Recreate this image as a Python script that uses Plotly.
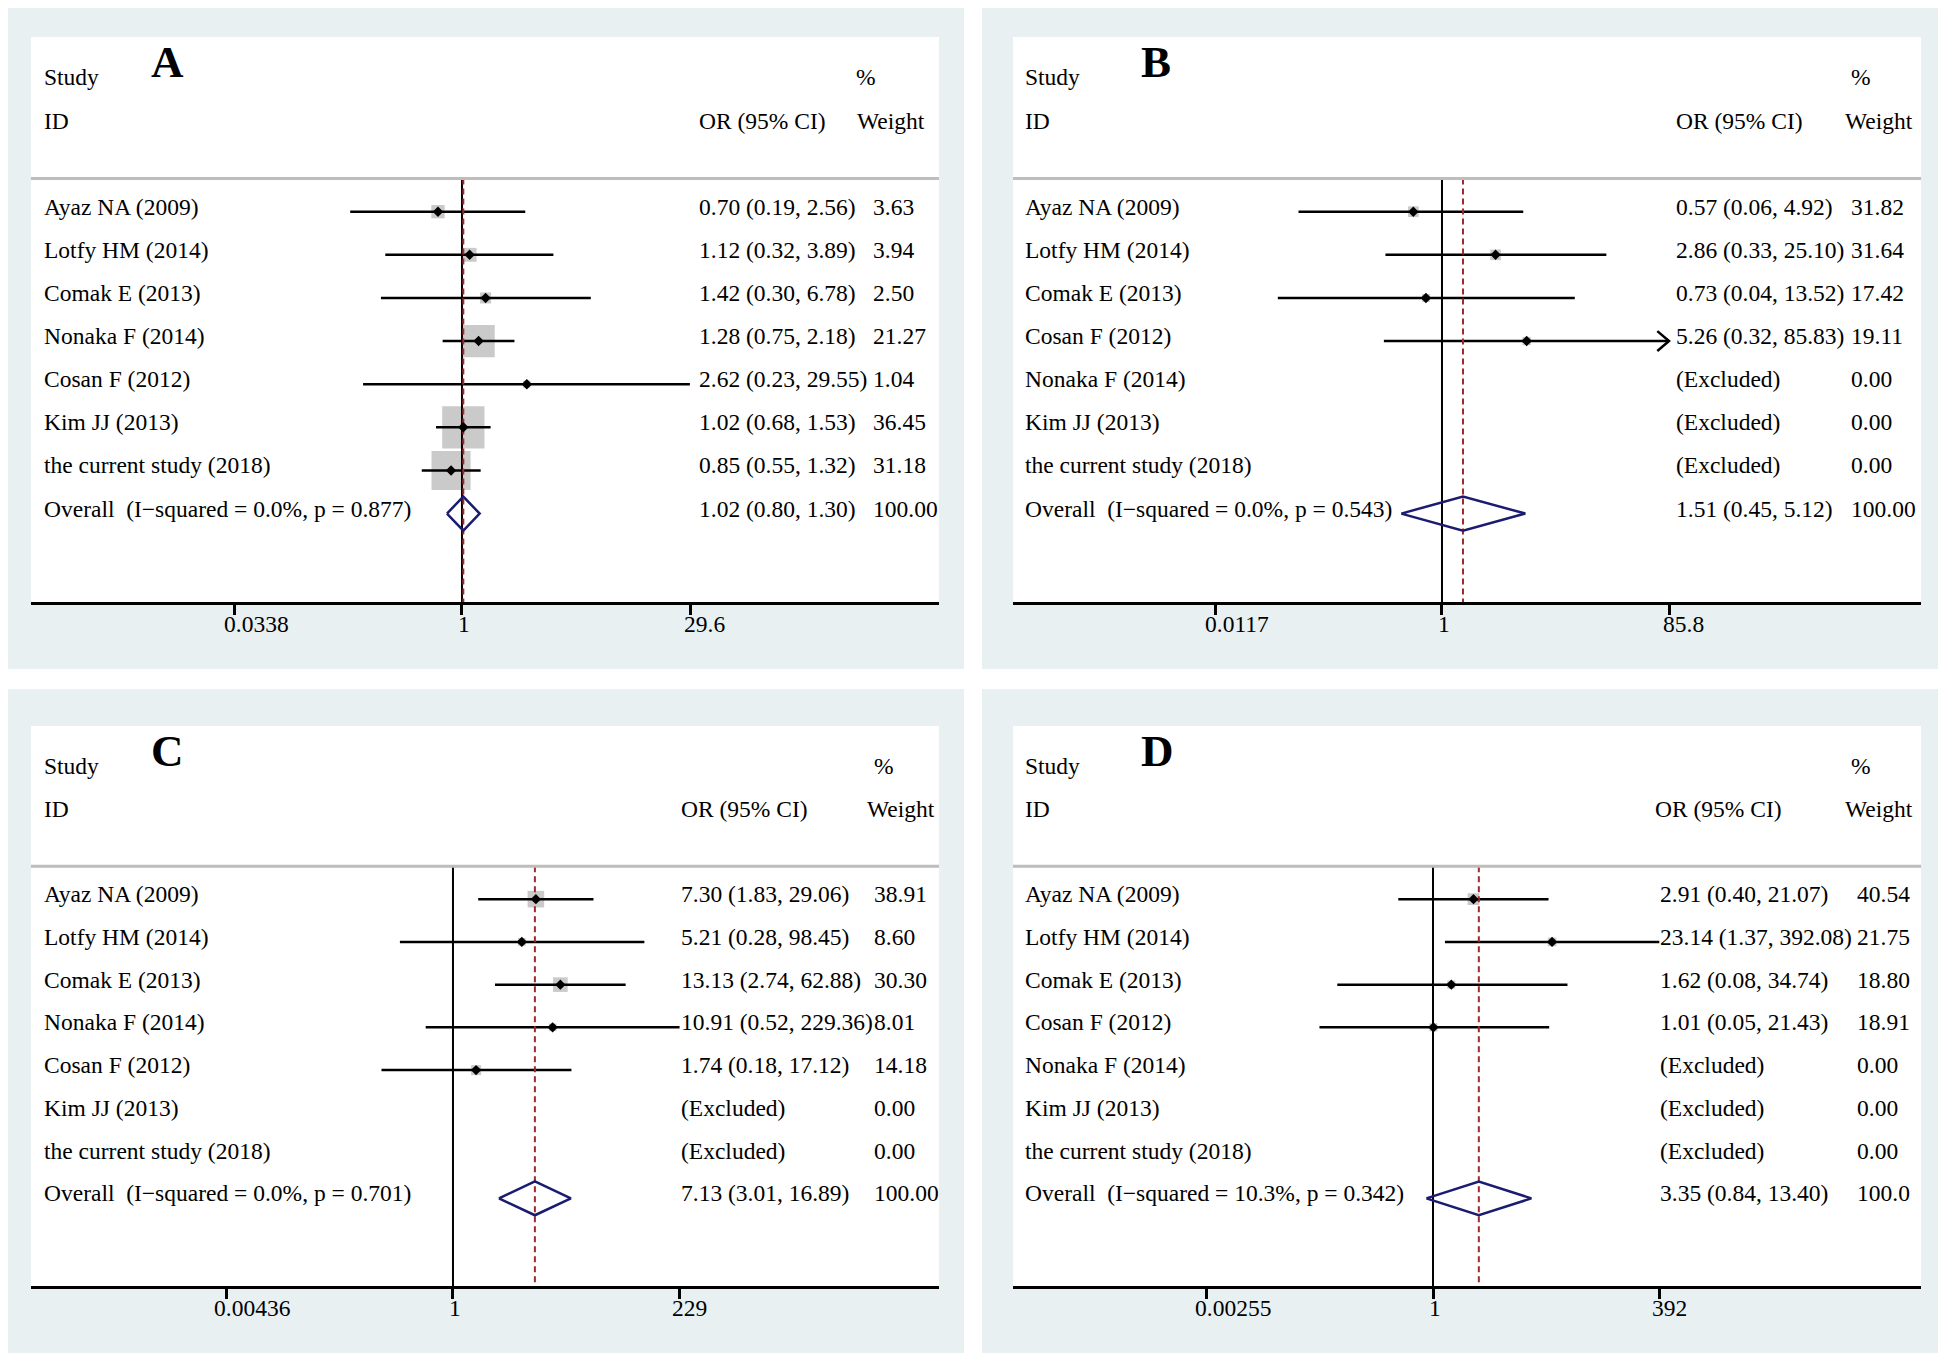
import math
import plotly.graph_objects as go

# ---------------- data ----------------
names_a = ["Ayaz NA (2009)", "Lotfy HM (2014)", "Comak E (2013)", "Nonaka F (2014)",
           "Cosan F (2012)", "Kim JJ (2013)", "the current study (2018)"]
or_a = [0.70, 1.12, 1.42, 1.28, 2.62, 1.02, 0.85]
lo_a = [0.19, 0.32, 0.30, 0.75, 0.23, 0.68, 0.55]
hi_a = [2.56, 3.89, 6.78, 2.18, 29.55, 1.53, 1.32]
wt_a = [3.63, 3.94, 2.50, 21.27, 1.04, 36.45, 31.18]
overall_a = [1.02, 0.80, 1.30]
het_a = ["0.0%", "0.877"]
ticks_a = ["0.0338", "1", "29.6"]

names_b = ["Ayaz NA (2009)", "Lotfy HM (2014)", "Comak E (2013)", "Cosan F (2012)",
           "Nonaka F (2014)", "Kim JJ (2013)", "the current study (2018)"]
or_b = [0.57, 2.86, 0.73, 5.26, None, None, None]
lo_b = [0.06, 0.33, 0.04, 0.32, None, None, None]
hi_b = [4.92, 25.10, 13.52, 85.83, None, None, None]
wt_b = [31.82, 31.64, 17.42, 19.11, 0.00, 0.00, 0.00]
overall_b = [1.51, 0.45, 5.12]
het_b = ["0.0%", "0.543"]
ticks_b = ["0.0117", "1", "85.8"]

names_c = ["Ayaz NA (2009)", "Lotfy HM (2014)", "Comak E (2013)", "Nonaka F (2014)",
           "Cosan F (2012)", "Kim JJ (2013)", "the current study (2018)"]
or_c = [7.30, 5.21, 13.13, 10.91, 1.74, None, None]
lo_c = [1.83, 0.28, 2.74, 0.52, 0.18, None, None]
hi_c = [29.06, 98.45, 62.88, 229.36, 17.12, None, None]
wt_c = [38.91, 8.60, 30.30, 8.01, 14.18, 0.00, 0.00]
overall_c = [7.13, 3.01, 16.89]
het_c = ["0.0%", "0.701"]
ticks_c = ["0.00436", "1", "229"]

names_d = ["Ayaz NA (2009)", "Lotfy HM (2014)", "Comak E (2013)", "Cosan F (2012)",
           "Nonaka F (2014)", "Kim JJ (2013)", "the current study (2018)"]
or_d = [2.91, 23.14, 1.62, 1.01, None, None, None]
lo_d = [0.40, 1.37, 0.08, 0.05, None, None, None]
hi_d = [21.07, 392.08, 34.74, 21.43, None, None, None]
wt_d = [40.54, 21.75, 18.80, 18.91, 0.00, 0.00, 0.00]
overall_d = [3.35, 0.84, 13.40]
het_d = ["10.3%", "0.342"]
ticks_d = ["0.00255", "1", "392"]

overall_wt_labels = ["100.00", "100.00", "100.00", "100.0"]

# ---------------- styling / layout (pixel positions in the 1946x1355 page) ----------------
OFF = 8                      # default body margin of the html page
W, H = 1946 - OFF, 1355 - OFF
FONT = "Liberation Serif, Times New Roman, serif"
FS = 23.5
BG = "#e8f0f2"
BOX = "#b4b4b4"
NAVY = "#1b1b70"
RED = "#a3282b"


def px_x(px):
    return (px - OFF) / W


def px_y(py):
    return 1 - (py - OFF) / H


panels = [
    dict(letter="A", names=names_a, est=or_a, lo=lo_a, hi=hi_a, wt=wt_a, ov=overall_a, het=het_a, ticks=ticks_a,
         px=(31, 939), py=(37, 602), rng=(-2.781, 3.078), lab=42, orc=697, wtc=871, pct=854, wth=855, orh=697,
         let=149, k=7.0, bg=(0, 964, 2, 669)),
    dict(letter="B", names=names_b, est=or_b, lo=lo_b, hi=hi_b, wt=wt_b, ov=overall_b, het=het_b, ticks=ticks_b,
         px=(1013, 1921), py=(37, 602), rng=(-3.653, 4.079), lab=1023, orc=1674, wtc=1849, pct=1849, wth=1843, orh=1674,
         let=1139, k=1.9, bg=(982, 1943, 2, 669)),
    dict(letter="C", names=names_c, est=or_c, lo=lo_c, hi=hi_c, wt=wt_c, ov=overall_c, het=het_c, ticks=ticks_c,
         px=(31, 939), py=(726, 1286), rng=(-4.395, 5.062), lab=42, orc=679, wtc=872, pct=872, wth=865, orh=679,
         let=149, k=2.65, bg=(0, 964, 689, 1353)),
    dict(letter="D", names=names_d, est=or_d, lo=lo_d, hi=hi_d, wt=wt_d, ov=overall_d, het=het_d, ticks=ticks_d,
         px=(1013, 1921), py=(726, 1286), rng=(-4.813, 5.592), lab=1023, orc=1658, wtc=1855, pct=1849, wth=1843, orh=1653,
         let=1139, k=1.85, bg=(982, 1943, 689, 1353)),
]

YR = [10.05, -3.05]
SEP = 0.23
HALF = 0.395

fig = go.Figure()
shapes, annotations = [], []
layout_axes = {}

for i, p in enumerate(panels):
    n = "" if i == 0 else str(i + 1)
    xa, ya = "x" + n, "y" + n
    L, R = p["px"]
    T, B = p["py"]
    xd = lambda px, L=L, R=R: (px - L) / (R - L)
    tickvals = [float(t) for t in p["ticks"]]
    tmin, tmax = tickvals[0], tickvals[-1]

    layout_axes["xaxis" + n] = dict(
        type="log", range=list(p["rng"]), domain=[px_x(L), px_x(R)], anchor=ya,
        showline=True, linecolor="black", linewidth=3, ticks="outside", ticklen=10, tickwidth=3,
        tickcolor="black", tickvals=tickvals, showticklabels=False, showgrid=False, zeroline=False,
    )
    layout_axes["yaxis" + n] = dict(
        range=YR, domain=[px_y(B), px_y(T)], anchor=xa, visible=False, showgrid=False, zeroline=False,
    )

    # grey graph region and white plot region
    x0, x1, y0, y1 = p["bg"]
    shapes.append(dict(type="rect", xref="paper", yref="paper", x0=px_x(x0), x1=px_x(x1), y0=px_y(y1), y1=px_y(y0),
                       fillcolor=BG, line=dict(width=0), layer="below"))
    shapes.append(dict(type="rect", xref="paper", yref="paper", x0=px_x(L), x1=px_x(R), y0=px_y(B), y1=px_y(T),
                       fillcolor="white", line=dict(width=0), layer="below"))
    # header separator
    shapes.append(dict(type="line", xref=xa + " domain", yref=ya, x0=0, x1=1, y0=SEP, y1=SEP,
                       line=dict(color="#bdbdbd", width=3)))

    rows = list(range(1, len(p["names"]) + 1))
    inc = [j for j in range(len(rows)) if p["est"][j] is not None]

    # boxes
    fig.add_trace(go.Scatter(
        x=[p["est"][j] for j in inc], y=[rows[j] for j in inc], mode="markers", xaxis=xa, yaxis=ya,
        marker=dict(symbol="square", color=BOX, size=[p["k"] * math.sqrt(p["wt"][j]) for j in inc], line=dict(width=0)),
        hoverinfo="skip", showlegend=False,
    ))
    # confidence intervals
    cx, cy, ax, ay = [], [], [], []
    for j in inc:
        lo = max(p["lo"][j], tmin)
        hi = min(p["hi"][j], tmax)
        cx += [lo, hi, None]
        cy += [rows[j], rows[j], None]
        if p["hi"][j] > tmax and p["letter"] == "B":
            back = hi * math.exp(-0.23)
            ax += [back, hi, back, None]
            ay += [rows[j] - 0.23, rows[j], rows[j] + 0.23, None]
    fig.add_trace(go.Scatter(x=cx, y=cy, mode="lines", xaxis=xa, yaxis=ya, line=dict(color="black", width=2.5),
                             hoverinfo="skip", showlegend=False))
    if ax:
        fig.add_trace(go.Scatter(x=ax, y=ay, mode="lines", xaxis=xa, yaxis=ya, line=dict(color="black", width=2.5),
                                 hoverinfo="skip", showlegend=False))
    # null line and overall line
    fig.add_trace(go.Scatter(x=[1, 1], y=[SEP, YR[0]], mode="lines", xaxis=xa, yaxis=ya,
                             line=dict(color="black", width=2), hoverinfo="skip", showlegend=False))
    fig.add_trace(go.Scatter(x=[p["ov"][0]] * 2, y=[SEP, YR[0]], mode="lines", xaxis=xa, yaxis=ya,
                             line=dict(color=RED, width=2, dash="6px,4px"), hoverinfo="skip", showlegend=False))
    # point estimates
    fig.add_trace(go.Scatter(
        x=[p["est"][j] for j in inc], y=[rows[j] for j in inc], mode="markers", xaxis=xa, yaxis=ya,
        marker=dict(symbol="diamond", color="black", size=8), hoverinfo="skip", showlegend=False,
    ))
    # overall diamond
    orow = len(rows) + 1
    est, olo, ohi = p["ov"]
    fig.add_trace(go.Scatter(
        x=[olo, est, ohi, est, olo], y=[orow, orow - HALF, orow, orow + HALF, orow], mode="lines",
        xaxis=xa, yaxis=ya, line=dict(color=NAVY, width=2.5), hoverinfo="skip", showlegend=False,
    ))

    def txt(x, y, s, size=FS, bold=False, dy=5):
        annotations.append(dict(
            xref=xa + " domain", yref=ya, x=xd(x), y=y, text=f"<b>{s}</b>" if bold else s,
            showarrow=False, xanchor="left", yanchor="middle", yshift=dy,
            font=dict(family=FONT, size=size, color="black"),
        ))

    # headers
    txt(p["lab"], -2.12, "Study", dy=0)
    txt(p["lab"], -1.11, "ID", dy=0)
    txt(p["pct"], -2.12, "%", dy=0)
    txt(p["orh"], -1.11, "OR (95% CI)", dy=0)
    txt(p["wth"], -1.11, "Weight", dy=0)
    txt(p["let"], -2.45, p["letter"], size=45, bold=True, dy=1)

    for j, r in enumerate(rows):
        txt(p["lab"], r, p["names"][j])
        if p["est"][j] is None:
            txt(p["orc"], r, "(Excluded)")
        else:
            txt(p["orc"], r, f"{p['est'][j]:.2f} ({p['lo'][j]:.2f}, {p['hi'][j]:.2f})")
        txt(p["wtc"], r, f"{p['wt'][j]:.2f}")
    txt(p["lab"], orow, f"Overall  (I\u2212squared = {p['het'][0]}, p = {p['het'][1]})")
    txt(p["orc"], orow, f"{est:.2f} ({olo:.2f}, {ohi:.2f})")
    txt(p["wtc"], orow, overall_wt_labels[i])

    # tick labels
    for t, v in zip(p["ticks"], tickvals):
        annotations.append(dict(
            xref=xa, yref=ya + " domain", x=math.log10(v), y=0, text=t, showarrow=False,
            xanchor="center", yanchor="middle", yshift=-22, xshift=4 * (len(t) - 1) + 2,
            font=dict(family=FONT, size=FS, color="black"),
        ))

fig.update_layout(
    width=W, height=H, margin=dict(l=0, r=0, t=0, b=0),
    paper_bgcolor="white", plot_bgcolor="white", showlegend=False,
    shapes=shapes, annotations=annotations, **layout_axes,
)

fig.write_html("out.html")
